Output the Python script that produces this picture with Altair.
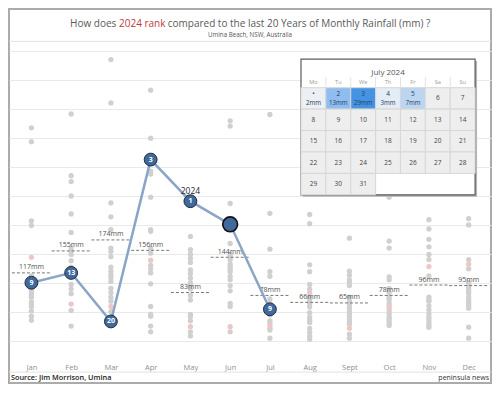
import json
import altair as alt
import pandas as pd

FONT = "Open Sans"

# ---------------- data ----------------
MONTHS = ["Jan", "Feb", "Mar", "Apr", "May", "Jun", "Jul", "Aug", "Sept", "Oct", "Nov", "Dec"]

JAN = [368, 344, 207, 199, 112, 108, 104, 96, 88, 83, 79, 75, 67, 63, 59, 51, 42, 35]
FEB = [392, 285, 275, 250, 219, 187, 160, 155, 149, 138, 127, 122, 110, 97, 89, 81, 52, 25]
MAR = [486, 411, 238, 214, 192, 160, 154, 145, 127, 120, 113, 108, 102, 90, 83, 75, 68, 50]
APR = [433, 350, 293, 288, 248, 192, 189, 160, 151, 130, 124, 117, 98, 59, 45, 42, 25, 15]
MAY = [180, 157, 149, 142, 135, 122, 116, 108, 100, 95, 89, 78, 70, 45, 41, 34, 15, 8]
JUN = [380, 371, 237, 168, 149, 145, 140, 132, 127, 123, 119, 111, 105, 95, 86, 64, 59, 15]
JUL = [391, 220, 158, 119, 111, 72, 64, 60, 52, 50, 48, 46, 44, 34, 31, 21, 18, 4]
AUG = [218, 202, 131, 119, 97, 89, 75, 70, 64, 58, 48, 40, 35, 31, 21, 14, 7, 2]
SEP = [177, 120, 113, 105, 101, 95, 75, 68, 62, 56, 51, 46, 41, 36, 31, 28, 11, 4]
OCT = [248, 172, 160, 110, 105, 90, 83, 75, 71, 64, 60, 52, 46, 40, 38, 34, 30, 26]
NOV = [209, 193, 175, 162, 149, 140, 112, 75, 70, 68, 60, 53, 46, 40, 36, 31, 27, 23]
DEC = [211, 200, 140, 124, 100, 97, 92, 89, 85, 81, 75, 70, 66, 63, 60, 56, 23, 4]
PAST_YEARS = [JAN, FEB, MAR, APR, MAY, JUN, JUL, AUG, SEP, OCT, NOV, DEC]
PINK = [144, 63, 59, 139, 24, 24, 26, 83, 21, 57, 128, 132]

AVG = [117, 155, 174, 156, 83, 144, 78, 66, 65, 78, 96, 95]

Y2024 = [100, 117, 33, 313, 241, 201, 54]
RANK2024 = ["9", "13", "20", "3", "1", "", "9"]
LINE_LABEL = "2024"

TITLE_LEFT = "How does"
TITLE_RED = "2024 rank"
TITLE_RIGHT = "compared to the last 20 Years of Monthly Rainfall (mm) ?"
SUBTITLE = "Umina Beach, NSW, Australia"
SOURCE = "Source: Jim Morrison, Umina"
BRAND = "peninsula news"

CAL_TITLE = "July 2024"
WEEKDAYS = ["Mo", "Tu", "We", "Th", "Fr", "Sa", "Su"]
JULY_DAYS = 31
FIRST_WEEKDAY = 0  # 1 July 2024 is a Monday
JULY_RAIN = {1: 2, 2: 13, 3: 29, 4: 3, 5: 7}
DAY_TEXT = {1: "\u2022"}
RAIN_LEVELS = [0, 2, 3, 7, 13, 29]
RAIN_COLORS = ["#eeeeee", "#eceff3", "#e4ecf6", "#bcd6f1", "#8fbdf0", "#4593e2"]

# ---------------- tables ----------------
dots_df = pd.DataFrame([{"m": i, "mm": v} for i, arr in enumerate(PAST_YEARS) for v in arr])
pink_df = pd.DataFrame({"m": list(range(12)), "mm": PINK})
avg_df = pd.DataFrame({"m": list(range(12)), "mm": AVG, "label": [f"{v}mm" for v in AVG]})
yr_df = pd.DataFrame({"m": list(range(len(Y2024))), "mm": Y2024, "rank": RANK2024})

cal_rows = []
for d in range(1, JULY_DAYS + 1):
    k = d - 1 + FIRST_WEEKDAY
    rain = JULY_RAIN.get(d, 0)
    cal_rows.append({"c": k % 7, "r": k // 7, "day": DAY_TEXT.get(d, str(d)),
                     "rain": rain, "mmtxt": f"{rain}mm" if rain else ""})
cal_df = pd.DataFrame(cal_rows)
hdr_df = pd.DataFrame({"c": list(range(7)), "wd": WEEKDAYS})

# ---------------- scales / axes ----------------
XS = alt.Scale(domain=[-0.5635, 11.562], nice=False, zero=False)
YS = alt.Scale(domain=[-73.5, 573.5], nice=False, zero=False)
XAX = alt.Axis(values=list(range(12)), labelExpr=json.dumps(MONTHS) + "[datum.value]",
               grid=False, ticks=False, domain=False, title=None, labelColor="#8f8f8f",
               labelFont=FONT, labelFontSize=7.5, labelFlush=False, labelOverlap=False,
               offset=-16, labelPadding=0, labelBaseline="middle")
YAX = alt.Axis(values=list(range(0, 501, 50)), grid=True, gridColor="#e9e9e9", gridWidth=1,
               labels=False, ticks=False, domain=False, title=None)


def X(f):
    return alt.X(f, scale=XS, axis=XAX)


def Y(f):
    return alt.Y(f, scale=YS, axis=YAX)


dots = alt.Chart(dots_df).mark_circle(size=28, color="#d0d0d0", opacity=1).encode(x=X("m:Q"), y=Y("mm:Q"))
pink = alt.Chart(pink_df).mark_circle(size=28, color="#edc6c6", opacity=1).encode(x=X("m:Q"), y=Y("mm:Q"))

rules = alt.Chart(avg_df).transform_calculate(lo="datum.m - 0.49", hi="datum.m + 0.49").mark_rule(
    color="#777777", strokeDash=[3, 2], strokeWidth=1).encode(x=X("lo:Q"), x2="hi:Q", y=Y("mm:Q"))
avg_text = alt.Chart(avg_df).mark_text(font=FONT, fontSize=7, color="#505050", dy=-5.5).encode(
    x=X("m:Q"), y=Y("mm:Q"), text="label:N")

line = alt.Chart(yr_df).mark_line(color="#8aa5c6", strokeWidth=2.5).encode(x=X("m:Q"), y=Y("mm:Q"))
circles = alt.Chart(yr_df).transform_filter("datum.rank != ''").mark_circle(
    size=165, color="#40699c", stroke="#1c2b40", strokeWidth=1, opacity=1).encode(x=X("m:Q"), y=Y("mm:Q"))
big = alt.Chart(yr_df).transform_filter("datum.rank == ''").mark_circle(
    size=220, color="#40699c", stroke="#111111", strokeWidth=1.6, opacity=1).encode(x=X("m:Q"), y=Y("mm:Q"))
rank_text = alt.Chart(yr_df).mark_text(font=FONT, fontSize=7, fontWeight="bold", color="white").encode(
    x=X("m:Q"), y=Y("mm:Q"), text="rank:N")
lab = alt.Chart(yr_df).transform_filter("datum.rank == '1'").transform_calculate(
    lab=f"'{LINE_LABEL}'").mark_text(font=FONT, fontSize=8.5, color="#2a2a2a", dy=-10.5).encode(
    x=X("m:Q"), y=Y("mm:Q"), text="lab:N")


def txt(s, x, y, align, size, color, weight="normal", baseline="alphabetic"):
    return alt.Chart(pd.DataFrame({"t": [s]})).mark_text(
        font=FONT, fontSize=size, color=color, align=align, baseline=baseline, fontWeight=weight
    ).encode(x=alt.value(x), y=alt.value(y), text="t:N")


def hrule(y):
    return alt.Chart(pd.DataFrame({"k": [0]})).mark_rule(color="#e2e2e2", strokeWidth=1).encode(
        x=alt.value(0), x2=alt.value(482), y=alt.value(y))


title_l = txt(TITLE_LEFT, 107.3, 17.5, "right", 10, "#5a5a5a")
title_r = txt(TITLE_RED, 110.0, 17.5, "left", 10, "#c0393d")
title_rr = txt(TITLE_RIGHT, 158.7, 17.5, "left", 10, "#5a5a5a")
subtitle = txt(SUBTITLE, 241, 27.5, "center", 6.2, "#555555")
source = txt(SOURCE, 2, 371, "left", 7.3, "#1a1a1a", weight=600)
brand = txt(BRAND, 480, 371, "right", 7, "#333333")

main = alt.layer(hrule(32.4), hrule(363.1), dots, pink, rules, avg_text, line, circles, big,
                 rank_text, lab, title_l, title_r, title_rr, subtitle, source, brand)

# ---------------- calendar inset ----------------
CXS = alt.Scale(domain=[-11.741, 7.640], nice=False, zero=False)
CYS = alt.Scale(domain=[-3.674, 13.786], reverse=True, nice=False, zero=False)


def CX(f):
    return alt.X(f, scale=CXS, axis=None)


def CY(f):
    return alt.Y(f, scale=CYS, axis=None)


frame_df = pd.DataFrame([{"c": 0, "c2": 7, "r": -1.336, "r2": 5}])
shadow = alt.Chart(frame_df).transform_calculate(
    sc="datum.c + 0.08", sc2="datum.c2 + 0.08", sr="datum.r + 0.09", sr2="datum.r2 + 0.09"
).mark_rect(color="#b5b5b5").encode(x=CX("sc:Q"), x2="sc2:Q", y=CY("sr:Q"), y2="sr2:Q")
frame = alt.Chart(frame_df).mark_rect(fill="white", stroke="#5c5c5c", strokeWidth=1.2).encode(
    x=CX("c:Q"), x2="c2:Q", y=CY("r:Q"), y2="r2:Q")
cells = alt.Chart(cal_df).transform_calculate(c2="datum.c + 1", r2="datum.r + 1").mark_rect(
    stroke="#d7d7d7", strokeWidth=1).encode(
    x=CX("c:Q"), x2="c2:Q", y=CY("r:Q"), y2="r2:Q",
    color=alt.Color("rain:O", scale=alt.Scale(domain=RAIN_LEVELS, range=RAIN_COLORS), legend=None))
base_txt = alt.Chart(cal_df).transform_calculate(xc="datum.c + 0.5", yc="datum.r + 0.5")
day_dry = base_txt.transform_filter("datum.rain == 0").mark_text(
    font=FONT, fontSize=6.5, color="#444444").encode(x=CX("xc:Q"), y=CY("yc:Q"), text="day:N")
day_wet = base_txt.transform_filter("datum.rain > 0").mark_text(
    font=FONT, fontSize=6.5, color="#23405f", dy=-4.5).encode(x=CX("xc:Q"), y=CY("yc:Q"), text="day:N")
mm_wet = base_txt.transform_filter("datum.rain > 0").mark_text(
    font=FONT, fontSize=6.2, color="#23405f", dy=4.5).encode(x=CX("xc:Q"), y=CY("yc:Q"), text="mmtxt:N")
hdr = alt.Chart(hdr_df).transform_calculate(xc="datum.c + 0.5", yc="-0.265").mark_text(
    font=FONT, fontSize=5.6, color="#9a9a9a").encode(x=CX("xc:Q"), y=CY("yc:Q"), text="wd:N")
hdr_sep = alt.Chart(hdr_df).transform_filter("datum.c > 0").transform_calculate(
    ya="-0.5", yb="0").mark_rule(color="#e3e3e3").encode(x=CX("c:Q"), y=CY("ya:Q"), y2="yb:Q")
cal_title = alt.Chart(pd.DataFrame({"t": [CAL_TITLE], "xc": [3.5], "yc": [-0.675]})).mark_text(
    font=FONT, fontSize=8, color="#555555").encode(x=CX("xc:Q"), y=CY("yc:Q"), text="t:N")

calendar = alt.layer(shadow, frame, cells, day_dry, day_wet, mm_wet, hdr, hdr_sep, cal_title)

chart = alt.layer(main, calendar).resolve_scale(
    x="independent", y="independent", color="independent"
).properties(
    width=482, height=374, padding=1, autosize=alt.AutoSizeParams(type="none"), background="white"
).configure_view(stroke="#ababab", strokeWidth=2)

chart.save("out.html", embed_options={"renderer": "svg", "actions": False})
